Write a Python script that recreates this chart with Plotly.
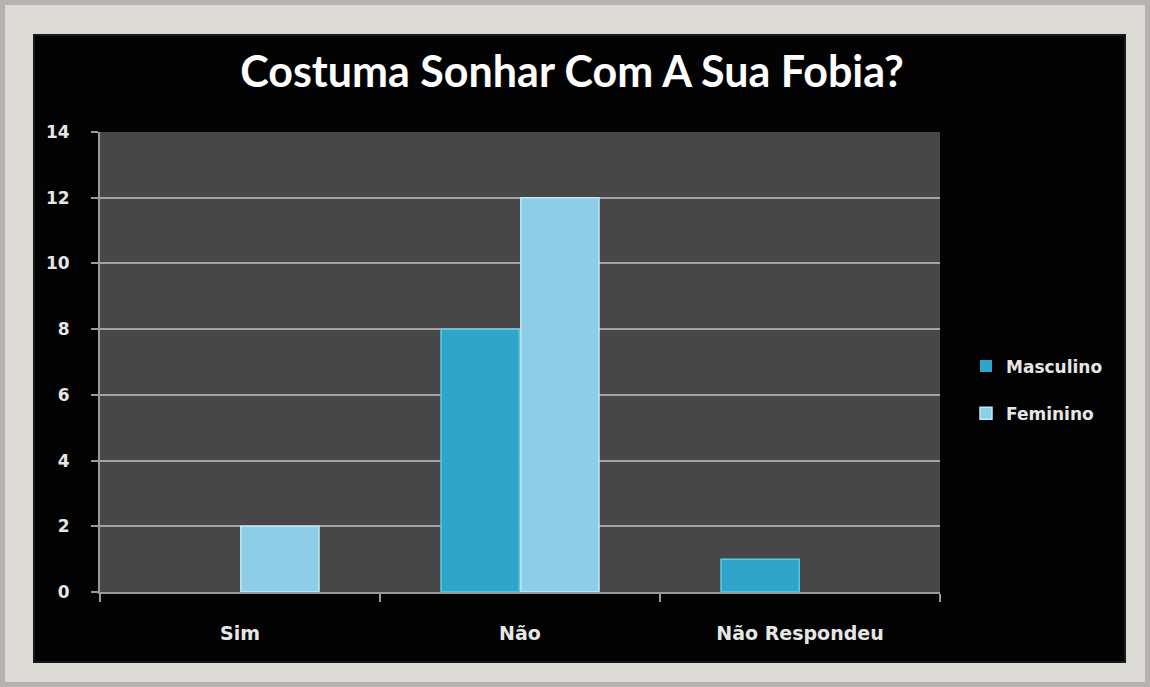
import plotly.graph_objects as go

categories = ["Sim", "Não", "Não Respondeu"]
masculino = [0, 8, 1]
feminino = [2, 12, 0]
y_ticks = [0, 2, 4, 6, 8, 10, 12, 14]
title_text = "Costuma Sonhar Com A Sua Fobia?"

W, H = 1150, 687
L, R, T, B = 100, 210, 132, 95
pw, ph = W - L - R, H - T - B

def px_x(x):
    return (x - L) / pw

def px_y(y):
    return (H - B - y) / ph

TFONT = "Lato"
FONT = "DejaVu Sans"

def edge_widths(vals):
    return [0 if v == 0 else 1.5 for v in vals]

fig = go.Figure()
fig.add_trace(go.Bar(
    name="Masculino", x=categories, y=masculino,
    marker=dict(color="#2ea5c9", line=dict(color="#5ccbe6", width=edge_widths(masculino))),
    legendgroup="m",
))
fig.add_trace(go.Bar(
    name="Feminino", x=categories, y=feminino,
    marker=dict(color="#8dcde8", line=dict(color="#bdeafa", width=edge_widths(feminino))),
    legendgroup="f",
))

shapes = [
    # outer textured frame
    dict(type="rect", xref="paper", yref="paper",
         x0=px_x(0), x1=px_x(W), y0=px_y(H), y1=px_y(0),
         fillcolor="#dcdad4", line=dict(color="#b4b3af", width=10), layer="below"),
    # black chart box
    dict(type="rect", xref="paper", yref="paper",
         x0=px_x(34), x1=px_x(1125), y0=px_y(662), y1=px_y(35),
         fillcolor="#030303", line=dict(color="#1a1a1a", width=2), layer="below"),
    # plot area
    dict(type="rect", xref="paper", yref="paper",
         x0=0, x1=1, y0=0, y1=1,
         fillcolor="#474747", line=dict(width=0), layer="below"),
]

fig.update_layout(
    width=W, height=H,
    margin=dict(l=L, r=R, t=T, b=B),
    paper_bgcolor="#dcdad4",
    plot_bgcolor="rgba(0,0,0,0)",
    shapes=shapes,
    barmode="group",
    bargap=0.43,
    bargroupgap=0.02,
    title=dict(text=f"<b>{title_text}</b>", xref="container", x=572 / W, xanchor="center",
               y=1 - 72 / H, yanchor="middle",
               font=dict(family=TFONT, size=43, color="#ffffff")),
    font=dict(family=FONT, color="#e6e6e6"),
    legend=dict(x=px_x(966), xanchor="left", y=px_y(390), yanchor="middle",
                traceorder="grouped", tracegroupgap=22,
                font=dict(family=FONT, size=17, color="#e6e6e6", weight="bold"),
                bgcolor="rgba(0,0,0,0)", itemwidth=30),
    showlegend=True,
)

fig.update_xaxes(
    type="category", tickson="boundaries", ticks="outside", ticklen=8,
    tickcolor="#9a9a9a", tickwidth=2, showline=True, linecolor="#9a9a9a", linewidth=2,
    showgrid=False, tickfont=dict(family=FONT, size=19, color="#e6e6e6", weight="bold"),
    ticklabelstandoff=23,
)
fig.update_yaxes(
    range=[0, 14], tickvals=y_ticks, ticks="outside", ticklen=7,
    tickcolor="#9a9a9a", tickwidth=2, showline=True, linecolor="#9a9a9a", linewidth=2,
    showgrid=True, gridcolor="#a3a3a3", gridwidth=2, zeroline=False,
    tickfont=dict(family=FONT, size=17, color="#e6e6e6", weight="bold"),
    ticklabelstandoff=18,
)

fig.write_html("out.html")
